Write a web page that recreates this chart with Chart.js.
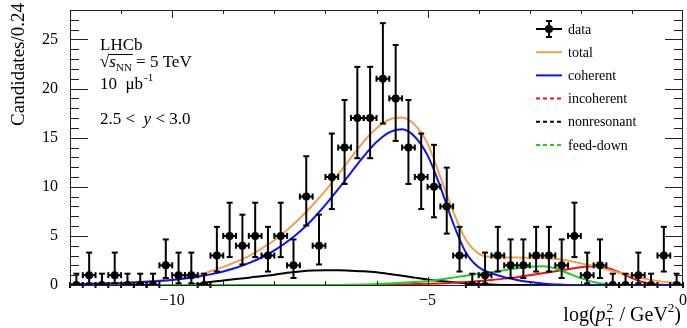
<!DOCTYPE html>
<html>
<head>
<meta charset="utf-8">
<script src="https://cdn.jsdelivr.net/npm/chart.js@4.4.1/dist/chart.umd.min.js"></script>
<style>
  html, body { margin: 0; padding: 0; background: #fff; }
  canvas { display: block; }
</style>
</head>
<body>
<canvas id="ptChart" width="687" height="328"></canvas>
<script>
// histogram: 48 bins of 0.25 in log(pT^2), from -12 to 0
const xMin = -12, xMax = 0, binWidth = 0.25;
const counts = [0, 1, 0, 1, 0, 0, 0, 2, 1, 1,
                0, 3, 5, 4, 5, 3, 5, 2, 9, 4,
                11, 14, 17, 17, 21, 19, 14, 11, 10, 8,
                3, 0, 1, 3, 2, 2, 3, 3, 2, 5,
                1, 2, 0, 0, 1, 0, 3, 0];
// asymmetric Poisson errors [down, up] per count, as drawn
const poissonErr = {
  0: [0, 1.15], 1: [0.83, 2.30], 2: [1.29, 2.64], 3: [1.63, 2.92],
  4: [1.91, 3.16], 5: [2.16, 3.38], 8: [2.77, 3.95], 9: [2.94, 4.11],
  10: [3.11, 4.27], 11: [3.27, 4.42], 14: [3.71, 4.84], 17: [4.09, 5.21],
  19: [4.33, 5.44], 21: [4.56, 5.66]
};

// fit components, sampled every 0.25 from -12 to 0
const curveStep = 0.25;
const total = [0.10, 0.12, 0.15, 0.18, 0.22, 0.28, 0.36, 0.46, 0.58, 0.74,
               0.98, 1.40, 1.85, 2.35, 2.95, 3.70, 4.55, 5.60, 6.80, 8.15,
               9.60, 11.25, 12.95, 14.6, 15.95, 16.85, 17.05, 16.3, 14.4, 11.0,
               7.5, 4.6, 3.2, 2.85, 2.80, 2.80, 2.78, 2.75, 2.68, 2.50,
               2.20, 1.95, 1.60, 1.25, 0.95, 0.65, 0.42, 0.25, 0.15];
const coherent = [0.07, 0.09, 0.12, 0.15, 0.19, 0.25, 0.32, 0.41, 0.52, 0.66,
                  0.85, 1.08, 1.38, 1.75, 2.22, 2.80, 3.52, 4.40, 5.45, 6.70,
                  8.15, 9.75, 11.45, 13.1, 14.55, 15.55, 15.85, 15.1, 13.2, 10.0,
                  6.3, 3.3, 1.8, 1.2, 0.8, 0.5, 0.3, 0.15, 0.06, 0,
                  0, 0, 0, 0, 0, 0, 0, 0, 0];
const incoherent = [0, 0, 0, 0, 0, 0, 0, 0, 0, 0,
                    0, 0, 0, 0, 0, 0, 0, 0, 0, 0,
                    0, 0, 0, 0, 0.02, 0.04, 0.06, 0.09, 0.12, 0.16,
                    0.22, 0.30, 0.40, 0.50, 0.65, 0.80, 1.0, 1.2, 1.4, 1.6,
                    1.8, 1.9, 1.75, 1.3, 0.7, 0.25, 0.05, 0, 0];
const nonresonant = [0, 0, 0, 0, 0, 0, 0, 0, 0, 0,
                     0.1, 0.3, 0.45, 0.6, 0.75, 0.9, 1.05, 1.25, 1.38, 1.47,
                     1.5, 1.5, 1.45, 1.4, 1.3, 1.12, 0.95, 0.75, 0.55, 0.4,
                     0.28, 0.18, 0.1, 0.05, 0, 0, 0, 0, 0, 0,
                     0, 0, 0, 0, 0, 0, 0, 0, 0];
const feedDown = [0, 0, 0, 0, 0, 0, 0, 0, 0, 0,
                  0, 0, 0, 0, 0, 0, 0, 0, 0, 0,
                  0, 0, 0.02, 0.05, 0.1, 0.15, 0.22, 0.3, 0.4, 0.55,
                  0.75, 0.95, 1.15, 1.3, 1.5, 1.7, 1.85, 1.9, 1.7, 1.2,
                  0.7, 0.3, 0.08, 0, 0, 0, 0, 0, 0];

const xTickValues = [-10, -5, 0];
const yTickValues = [0, 5, 10, 15, 20, 25];

const serif = '"Liberation Serif", "DejaVu Serif", serif';
const colors = { total: '#f0a04e', coherent: '#1010f0', incoherent: '#ee1111', nonresonant: '#000000', feedDown: '#22cc22' };

const binCenters = counts.map((_, i) => xMin + (i + 0.5) * binWidth);
const curveX = total.map((_, i) => xMin + i * curveStep);
const toXY = arr => curveX.map((x, i) => ({ x: x, y: arr[i] }));

// lower order is drawn on top
function curve(label, arr, color, order) {
  return { label: label, data: toXY(arr), showLine: true, pointRadius: 0, borderColor: color,
           borderWidth: 2, cubicInterpolationMode: 'monotone', fill: false, order: order };
}

function hLine(ctx, x0, x1, y) { ctx.beginPath(); ctx.moveTo(x0, y); ctx.lineTo(x1, y); ctx.stroke(); }
function vLine(ctx, x, y0, y1) { ctx.beginPath(); ctx.moveTo(x, y0); ctx.lineTo(x, y1); ctx.stroke(); }

// error bars for the data points
const errorBars = {
  id: 'errorBars',
  afterDatasetsDraw(chart) {
    const { ctx, scales: { x, y } } = chart;
    ctx.save();
    ctx.strokeStyle = '#000';
    ctx.lineWidth = 2;
    counts.forEach((n, i) => {
      const c = binCenters[i];
      const err = poissonErr[n];
      const px = x.getPixelForValue(c), py = y.getPixelForValue(n);
      const x0 = x.getPixelForValue(c - binWidth / 2), x1 = x.getPixelForValue(c + binWidth / 2);
      const yTop = y.getPixelForValue(n + err[1]), yBot = y.getPixelForValue(n - err[0]);
      vLine(ctx, px, yBot, yTop);
      hLine(ctx, px - 3, px + 3, yTop);
      if (err[0] > 0) hLine(ctx, px - 3, px + 3, yBot);
      hLine(ctx, x0, x1, py);
      vLine(ctx, x0, py - 3, py + 3);
      vLine(ctx, x1, py - 3, py + 3);
    });
    ctx.restore();
  }
};

// frame, inner ticks, titles, labels and legend
const decorations = {
  id: 'decorations',
  afterDraw(chart) {
    const { ctx, chartArea: a, scales: { x, y } } = chart;
    ctx.save();
    ctx.strokeStyle = '#222';
    ctx.lineWidth = 1;
    ctx.strokeRect(Math.round(a.left) + 0.5, Math.round(a.top) + 0.5,
                   Math.round(a.right - a.left) - 1, Math.round(a.bottom - a.top));
    for (let v = 0; v <= 27; v++) {
      const py = Math.round(y.getPixelForValue(v)) + 0.5;
      const len = v % 5 === 0 ? 18 : 9;
      hLine(ctx, a.left, a.left + len, py);
      hLine(ctx, a.right, a.right - len, py);
    }
    for (let v = xMin + 1; v < xMax; v++) {
      const px = Math.round(x.getPixelForValue(v)) + 0.5;
      const len = v % 5 === 0 ? 8 : 4;
      vLine(ctx, px, a.bottom, a.bottom - len);
      vLine(ctx, px, a.top, a.top + len);
    }

    ctx.fillStyle = '#000';
    ctx.textBaseline = 'alphabetic';

    // y title
    ctx.save();
    ctx.translate(24, 3);
    ctx.rotate(-Math.PI / 2);
    ctx.font = '19px ' + serif;
    ctx.textAlign = 'right';
    ctx.fillText('Candidates/0.24', 0, 0);
    ctx.restore();

    // x title: log(p_T^2 / GeV^2)
    ctx.textAlign = 'left';
    const big = '20px ' + serif, small = '13px ' + serif;
    ctx.font = big;
    let w = ctx.measureText('log(').width + ctx.measureText('p').width;
    ctx.font = small;
    const wSup = ctx.measureText('2').width, wSub = ctx.measureText('T').width;
    w += Math.max(wSup, wSub) + 1;
    ctx.font = big;
    w += ctx.measureText(' / GeV').width;
    ctx.font = small;
    w += wSup;
    ctx.font = big;
    w += ctx.measureText(')').width;
    let tx = 681 - w;
    const by = 321;
    ctx.font = big;
    ctx.fillText('log(', tx, by); tx += ctx.measureText('log(').width;
    ctx.font = 'italic 20px ' + serif;
    ctx.fillText('p', tx, by); tx += ctx.measureText('p').width;
    ctx.font = small;
    ctx.fillText('2', tx + 1, by - 9);
    ctx.fillText('T', tx, by + 5);
    tx += Math.max(wSup, wSub) + 1;
    ctx.font = big;
    ctx.fillText(' / GeV', tx, by); tx += ctx.measureText(' / GeV').width;
    ctx.font = small;
    ctx.fillText('2', tx, by - 9); tx += wSup;
    ctx.font = big;
    ctx.fillText(')', tx, by);

    // annotations
    const ax = 100;
    ctx.font = '17px ' + serif;
    ctx.fillText('LHCb', ax, 50);
    let sx = ax;
    ctx.fillText('\u221A', sx, 67); sx += ctx.measureText('\u221A').width;
    const ovStart = sx;
    ctx.font = 'italic 17px ' + serif;
    ctx.fillText('s', sx, 67); sx += ctx.measureText('s').width;
    ctx.font = '11px ' + serif;
    ctx.fillText('NN', sx, 71); sx += ctx.measureText('NN').width;
    ctx.lineWidth = 1;
    ctx.strokeStyle = '#000';
    hLine(ctx, ovStart, sx + 1, 54.5);
    ctx.font = '17px ' + serif;
    ctx.fillText(' = 5 TeV', sx, 67);
    ctx.fillText('10  \u03BCb', ax, 89);
    const mw = ctx.measureText('10  \u03BCb').width;
    ctx.font = '11px ' + serif;
    ctx.fillText('-1', ax + mw + 1, 81);
    ctx.font = '17px ' + serif;
    ctx.fillText('2.5 <  ', ax, 124);
    let yx = ax + ctx.measureText('2.5 <  ').width;
    ctx.font = 'italic 17px ' + serif;
    ctx.fillText('y', yx, 124); yx += ctx.measureText('y').width;
    ctx.font = '17px ' + serif;
    ctx.fillText(' < 3.0', yx, 124);

    // legend
    const rows = [
      { label: 'data' },
      { label: 'total', color: colors.total, dash: [] },
      { label: 'coherent', color: colors.coherent, dash: [] },
      { label: 'incoherent', color: colors.incoherent, dash: [4, 3] },
      { label: 'nonresonant', color: colors.nonresonant, dash: [4, 3] },
      { label: 'feed-down', color: colors.feedDown, dash: [4, 3] }
    ];
    const lx0 = 536, lx1 = 562, ltx = 568;
    ctx.font = '14px ' + serif;
    ctx.textBaseline = 'middle';
    rows.forEach((r, i) => {
      const ly = 29 + i * 23.2;
      if (!r.color) {
        ctx.strokeStyle = '#000';
        ctx.lineWidth = 2;
        hLine(ctx, lx0, lx1, ly);
        const cx = (lx0 + lx1) / 2;
        vLine(ctx, cx, ly - 8, ly + 8);
        hLine(ctx, cx - 3, cx + 3, ly - 8);
        hLine(ctx, cx - 3, cx + 3, ly + 8);
        ctx.beginPath();
        ctx.arc(cx, ly, 4, 0, Math.PI * 2);
        ctx.fill();
      } else {
        ctx.strokeStyle = r.color;
        ctx.lineWidth = 2;
        ctx.setLineDash(r.dash);
        hLine(ctx, lx0, lx1, ly);
        ctx.setLineDash([]);
      }
      ctx.fillStyle = '#000';
      ctx.fillText(r.label, ltx, ly + 1);
    });
    ctx.restore();
  }
};

new Chart(document.getElementById('ptChart').getContext('2d'), {
  type: 'scatter',
  data: {
    datasets: [
      { label: 'data', data: counts.map((n, i) => ({ x: binCenters[i], y: n })), order: 0,
        showLine: false, pointRadius: 4, pointBackgroundColor: '#000', pointBorderWidth: 0 },
      curve('total', total, colors.total, 3),
      curve('coherent', coherent, colors.coherent, 1),
      curve('incoherent', incoherent, colors.incoherent, 4),
      curve('nonresonant', nonresonant, colors.nonresonant, 5),
      curve('feed-down', feedDown, colors.feedDown, 2)
    ]
  },
  options: {
    responsive: false,
    animation: false,
    devicePixelRatio: 1,
    layout: { padding: { top: 10, right: 4, left: 0, bottom: 0 } },
    plugins: { legend: { display: false }, tooltip: { enabled: false } },
    scales: {
      x: {
        type: 'linear', min: xMin, max: xMax,
        grid: { display: false, drawTicks: false }, border: { display: false },
        ticks: { font: { family: serif, size: 16 }, color: '#000', padding: 6, maxRotation: 0,
                 callback: v => (v < 0 ? '\u2212' + Math.abs(v) : String(v)) },
        afterBuildTicks: s => { s.ticks = xTickValues.map(v => ({ value: v })); },
        afterFit: s => { s.height = 43; s.paddingLeft = 0; s.paddingRight = 0; }
      },
      y: {
        type: 'linear', min: 0, max: 28,
        grid: { display: false, drawTicks: false }, border: { display: false },
        ticks: { font: { family: serif, size: 16 }, color: '#000', padding: 12,
                 callback: v => String(v) },
        afterBuildTicks: s => { s.ticks = yTickValues.map(v => ({ value: v })); },
        afterFit: s => { s.width = 70; s.paddingTop = 0; s.paddingBottom = 0; }
      }
    }
  },
  plugins: [errorBars, decorations]
});
</script>
</body>
</html>
